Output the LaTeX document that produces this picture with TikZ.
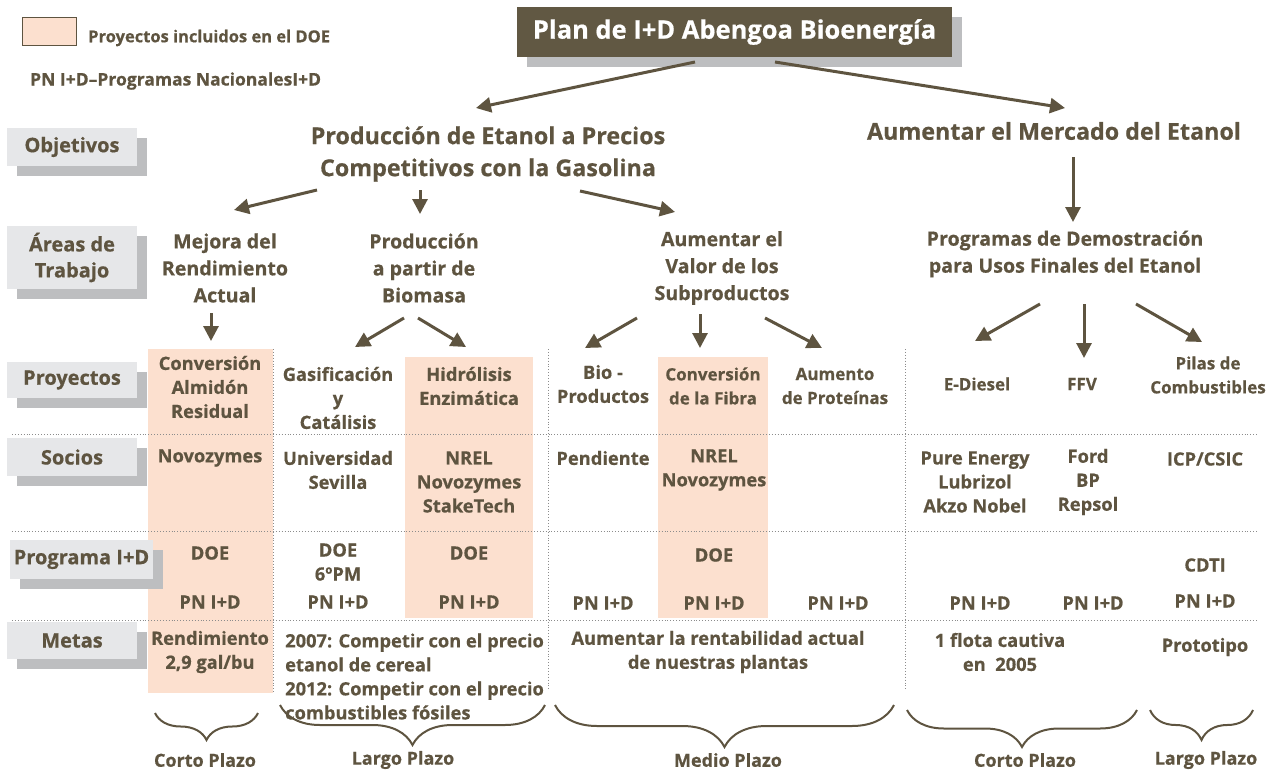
\documentclass[tikz,border=0pt]{standalone}
\usepackage{fontspec}
\setmainfont{Open Sans}[BoldFeatures={FakeBold=0.6}]
\usetikzlibrary{arrows.meta,shadows,decorations.pathreplacing}
\definecolor{tbrown}{HTML}{5E5440}
\definecolor{boxbrown}{HTML}{615843}
\definecolor{peach}{HTML}{FCE0CF}
\definecolor{lgray}{HTML}{E6E7E9}
\definecolor{sgray}{HTML}{BDBEC0}
\definecolor{dotgray}{HTML}{8C8C8C}
\newcommand\myfs[2]{\fontsize{#1}{#2}\selectfont}
\begin{document}
\begin{tikzpicture}[x=1pt,y=-1pt,
  txt/.style={text=tbrown, align=center, inner sep=0pt},
  objt/.style={txt, font=\myfs{23.3}{32}\bfseries},
  areat/.style={txt, font=\myfs{19.6}{27}\bfseries},
  tab/.style={txt, font=\myfs{18.3}{24}\bfseries},
  tabn/.style={txt, font=\myfs{17}{24}\bfseries},
  bot/.style={txt, font=\myfs{18}{20}\bfseries},
  lab/.style={fill=lgray, text=tbrown, inner sep=0pt, align=center,
     font=\myfs{20}{26}\bfseries,
     general shadow={fill=sgray, shadow xshift=10pt, shadow yshift=-10pt}},
  arr/.style={draw=tbrown, line width=3pt, -{Triangle[length=15pt,width=15pt]}},
  dots/.style={draw=dotgray, line width=0.9pt, dotted},
  brc/.style={draw=tbrown, line width=2pt, decorate, decoration={brace, mirror, amplitude=#1}}
]
\useasboundingbox (0,0) rectangle (1273,776);

% peach columns
\fill[peach] (148,349) rectangle (273,693);
\fill[peach] (405,357) rectangle (533,618);
\fill[peach] (658,357) rectangle (768,618);

% dotted grid
\draw[dots] (12,434) -- (1258,434);
\draw[dots] (12,531) -- (1258,531);
\draw[dots] (12,620) -- (1258,620);
\draw[dots] (273,349) -- (273,693);
\draw[dots] (548,349) -- (548,690);
\draw[dots] (905,349) -- (905,690);

% legend
\node[draw=tbrown, fill=peach, line width=1pt, minimum width=54pt, minimum height=28pt, inner sep=0pt] (leg) at (49,32) {};
\node[txt, anchor=west, font=\myfs{16.5}{18}\bfseries] (legt) at (88,38) {Proyectos incluidos en el DOE};
\node[txt, anchor=west, font=\myfs{17.5}{18}\bfseries] (pn) at (30,81) {PN I+D–Programas NacionalesI+D};

% title
\node[fill=boxbrown, text=white, font=\myfs{25.5}{28}\bfseries, minimum width=435pt, minimum height=50pt, inner sep=0pt,
  general shadow={fill=sgray, shadow xshift=10pt, shadow yshift=-10pt}] (title) at (734.5,32) {Plan de I+D Abengoa Bioenergía};

% row labels
\node[lab, minimum width=130pt, minimum height=38pt] (lobj) at (72,147) {Objetivos};
\node[lab, minimum width=130pt, minimum height=63pt] (lar) at (72,257.5) {Áreas de\\Trabajo};
\node[lab, minimum width=130pt, minimum height=36pt] (lpro) at (72,380) {Proyectos};
\node[lab, minimum width=130pt, minimum height=38pt] (lsoc) at (72,457) {Socios};
\node[lab, minimum width=143pt, minimum height=39pt] (lprog) at (81.5,559.5) {Programa I+D};
\node[lab, minimum width=130pt, minimum height=37pt] (lmet) at (72,640.5) {Metas};

% objectives
\node[objt] (prod) at (488,154) {Producción de Etanol a Precios\\Competitivos con la Gasolina};
\node[objt] (merc) at (1054,131) {Aumentar el Mercado del Etanol};

% areas
\node[areat] (mejora) at (225,268) {Mejora del\\Rendimiento\\Actual};
\node[areat] (biom) at (424,268) {Producción\\a partir de\\Biomasa};
\node[areat] (valor) at (722,268) {Aumentar el\\Valor de los\\Subproductos};
\node[areat] (progs) at (1065,254) {Programas de Demostración\\para Usos Finales del Etanol};

% projects
\node[tab] (p1) at (210,387) {Conversión\\Almidón\\Residual};
\node[tab] (p2) at (338,398) {Gasificación\\y\\Catálisis};
\node[tab] (p3) at (469,386) {Hidrólisis\\Enzimática};
\node[tab] (p4) at (603,384) {Bio -\\Productos};
\node[tabn] (p5) at (713,386) {Conversión\\de la Fibra};
\node[tabn] (p6) at (835,386) {Aumento\\de Proteínas};
\node[tabn] (p7) at (977,384) {E-Diesel};
\node[tabn] (p8) at (1082,384) {FFV};
\node[tabn] (p9) at (1208,375) {Pilas de\\Combustibles};

% partners
\node[tab] (s1) at (210,458) {Novozymes};
\node[tab] (s2) at (338,470) {Universidad\\Sevilla};
\node[tab] (s3) at (469,482) {NREL\\Novozymes\\StakeTech};
\node[tab] (s4) at (603,458) {Pendiente};
\node[tab] (s5) at (714,470) {NREL\\Novozymes};
\node[tab] (s7) at (975,482) {Pure Energy\\Lubrizol\\Akzo Nobel};
\node[tab] (s8) at (1088,482) {Ford\\BP\\Repsol};
\node[tab] (s9) at (1205,459) {ICP/CSIC};

% programs
\node[tab] (d1) at (210,553) {DOE};
\node[tab] (n1) at (210,602) {PN I+D};
\node[tab] (d2) at (338,562) {DOE\\6ºPM};
\node[tab] (n2) at (338,602) {PN I+D};
\node[tab] (d3) at (469,553) {DOE};
\node[tab] (n3) at (469,602) {PN I+D};
\node[tab] (n4) at (603,603) {PN I+D};
\node[tab] (d5) at (714,555) {DOE};
\node[tab] (n5) at (714,603) {PN I+D};
\node[tab] (n6) at (838,603) {PN I+D};
\node[tab] (n7) at (980,603) {PN I+D};
\node[tab] (n8) at (1093,603) {PN I+D};
\node[tab] (d9) at (1205,565) {CDTI};
\node[tab] (n9) at (1205,601) {PN I+D};

% goals
\node[tab] (m1) at (210,652) {Rendimiento\\2,9 gal/bu};
\node[tab, align=left, anchor=west] (m2) at (285,676.5) {2007: Competir con el precio\\etanol de cereal\\2012: Competir con el precio\\combustibles fósiles};
\node[tab] (m3) at (718,652) {Aumentar la rentabilidad actual\\de nuestras plantas};
\node[tab] (m4) at (1000,652) {1 flota cautiva\\en~~2005};
\node[tab] (m5) at (1205,647) {Prototipo};

% bottom labels
\node[bot] (t1) at (205,760) {Corto Plazo};
\node[bot] (t2) at (403,760) {Largo Plazo};
\node[bot] (t3) at (728,760) {Medio Plazo};
\node[bot] (t4) at (1025,760) {Corto Plazo};
\node[bot] (t5) at (1206,760) {Largo Plazo};

% braces
\coordinate (b1a) at (155,713); \coordinate (b1b) at (258,713);
\coordinate (b2a) at (280,705); \coordinate (b2b) at (545,705);
\coordinate (b3a) at (555,705); \coordinate (b3b) at (894,705);
\coordinate (b4a) at (907,710); \coordinate (b4b) at (1137,710);
\coordinate (b5a) at (1150,710); \coordinate (b5b) at (1253,710);
\draw[brc=27pt] (b1a) -- (b1b);
\draw[brc=40pt] (b2a) -- (b2b);
\draw[brc=42pt] (b3a) -- (b3b);
\draw[brc=37pt] (b4a) -- (b4b);
\draw[brc=30pt] (b5a) -- (b5b);

% arrows
\draw[arr] ([shift={(-39.5,30)}]title.center) -- ([shift={(-12,-46)}]prod.center);
\draw[arr] ([shift={(40.5,30)}]title.center) -- ([shift={(11,-23)}]merc.center);
\draw[arr] ([shift={(-171,36)}]prod.center) -- ([shift={(9,-58)}]mejora.center);
\draw[arr] ([shift={(-68,36)}]prod.center) -- ([shift={(-4,-54)}]biom.center);
\draw[arr] ([shift={(92,37)}]prod.center) -- ([shift={(-47,-56)}]valor.center);
\draw[arr] ([shift={(19,26)}]merc.center) -- ([shift={(8,-32)}]progs.center);
\draw[arr] ([shift={(-14,45)}]mejora.center) -- ([shift={(1,-46)}]p1.center);
\draw[arr] ([shift={(-20,50)}]biom.center) -- ([shift={(17,-51)}]p2.center);
\draw[arr] ([shift={(-6,50)}]biom.center) -- ([shift={(-3,-39)}]p3.center);
\draw[arr] ([shift={(-85,50)}]valor.center) -- ([shift={(-18,-36)}]p4.center);
\draw[arr] ([shift={(-22,46)}]valor.center) -- ([shift={(-13,-38)}]p5.center);
\draw[arr] ([shift={(43,50)}]valor.center) -- ([shift={(-13,-38)}]p6.center);
\draw[arr] ([shift={(-25,50)}]progs.center) -- ([shift={(-2,-43)}]p7.center);
\draw[arr] ([shift={(19,50)}]progs.center) -- ([shift={(2,-26)}]p8.center);
\draw[arr] ([shift={(71,50)}]progs.center) -- ([shift={(-6,-33)}]p9.center);
\end{tikzpicture}
\end{document}
